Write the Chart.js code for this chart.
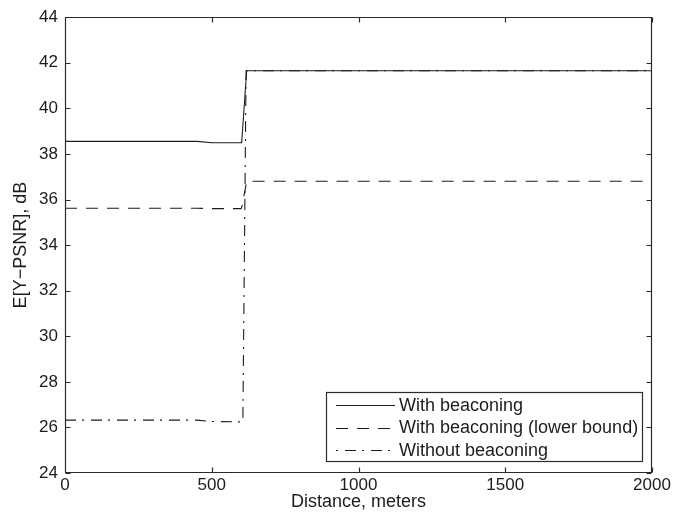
<!DOCTYPE html>
<html>
<head>
<meta charset="utf-8">
<title>E[Y-PSNR] vs distance</title>
<script src="https://cdn.jsdelivr.net/npm/chart.js@4/dist/chart.umd.min.js"></script>
<style>
  html, body { margin: 0; padding: 0; background: #ffffff; }
  canvas { display: block; }
</style>
</head>
<body>
<canvas id="psnrChart" width="687" height="516"></canvas>
<script>
// Tick values for both axes
const distanceTicks = [0, 500, 1000, 1500, 2000];
const psnrTicks = [24, 26, 28, 30, 32, 34, 36, 38, 40, 42, 44];

// With beaconing
const beaconDistance = [0, 450, 500, 602, 619, 2000];
const beaconPsnr = [38.55, 38.55, 38.49, 38.49, 41.65, 41.65];

// With beaconing (lower bound)
const lowerDistance = [0, 450, 500, 600, 603, 619, 2000];
const lowerPsnr = [35.62, 35.62, 35.6, 35.6, 35.7, 36.8, 36.8];

// Without beaconing
const noBeaconDistance = [0, 450, 500, 606, 617, 2000];
const noBeaconPsnr = [26.32, 26.32, 26.26, 26.24, 41.65, 41.65];

const FONT = '"Liberation Sans", Arial, Helvetica, sans-serif';
const INK = '#1c1c1c';

const toPoints = (xs, ys) => xs.map((x, i) => ({ x: x, y: ys[i] }));

// Box around the plot area with inward tick marks on every side
const framePlugin = {
  id: 'frame',
  afterDatasetsDraw(chart) {
    const { ctx, chartArea: a, scales } = chart;
    const L = Math.round(a.left) + 0.5, R = Math.round(a.right) - 0.5;
    const T = Math.round(a.top) + 0.5, B = Math.round(a.bottom) - 0.5;
    const len = 5;
    ctx.save();
    ctx.strokeStyle = '#2a2a2a';
    ctx.lineWidth = 1.2;
    ctx.beginPath();
    ctx.rect(L, T, R - L, B - T);
    distanceTicks.forEach(v => {
      const px = Math.round(scales.x.getPixelForValue(v)) + 0.5;
      ctx.moveTo(px, B); ctx.lineTo(px, B - len);
      ctx.moveTo(px, T); ctx.lineTo(px, T + len);
    });
    psnrTicks.forEach(v => {
      const py = Math.round(scales.y.getPixelForValue(v)) + 0.5;
      ctx.moveTo(L, py); ctx.lineTo(L + len, py);
      ctx.moveTo(R, py); ctx.lineTo(R - len, py);
    });
    ctx.stroke();
    ctx.restore();
  }
};

// Boxed legend in the lower right corner of the plot area
const boxLegendPlugin = {
  id: 'boxLegend',
  afterDraw(chart) {
    const { ctx, chartArea: a } = chart;
    const sets = chart.data.datasets;
    ctx.save();
    ctx.font = '18px ' + FONT;
    const textW = Math.max(...sets.map(d => ctx.measureText(d.label).width));
    const padL = 10, sample = 59, gap = 4, padR = 5, rowH = 22.5, padT = 13;
    const w = padL + sample + gap + textW + padR;
    const h = 70;
    const right = Math.round(a.right) - 9;
    const bottom = Math.round(a.bottom) - 11;
    const left = right - Math.round(w);
    const top = bottom - h;
    ctx.fillStyle = '#ffffff';
    ctx.fillRect(left, top, right - left, h);
    ctx.strokeStyle = '#2a2a2a';
    ctx.lineWidth = 1.2;
    ctx.strokeRect(left + 0.5, top + 0.5, right - left - 1, h - 1);
    sets.forEach((d, i) => {
      const yRow = top + padT + i * rowH;
      ctx.strokeStyle = INK;
      ctx.lineWidth = 1;
      ctx.setLineDash(d.borderDash || []);
      ctx.lineDashOffset = d.legendDashOffset || 0;
      ctx.beginPath();
      ctx.moveTo(left + padL, Math.round(yRow) + 0.5);
      ctx.lineTo(left + padL + sample, Math.round(yRow) + 0.5);
      ctx.stroke();
      ctx.setLineDash([]);
      ctx.fillStyle = INK;
      ctx.textAlign = 'left';
      ctx.textBaseline = 'middle';
      ctx.fillText(d.label, left + padL + sample + gap, yRow + 1);
    });
    ctx.restore();
  }
};

new Chart(document.getElementById('psnrChart'), {
  type: 'line',
  data: {
    datasets: [
      {
        label: 'With beaconing',
        data: toPoints(beaconDistance, beaconPsnr),
        borderColor: INK,
        borderWidth: 1.1,
        borderDash: []
      },
      {
        label: 'With beaconing (lower bound)',
        data: toPoints(lowerDistance, lowerPsnr),
        borderColor: INK,
        borderWidth: 1.1,
        borderDash: [12, 9]
      },
      {
        label: 'Without beaconing',
        data: toPoints(noBeaconDistance, noBeaconPsnr),
        borderColor: INK,
        borderWidth: 1.1,
        borderDash: [11, 6, 2, 7],
        legendDashOffset: 17
      }
    ]
  },
  options: {
    responsive: false,
    animation: false,
    devicePixelRatio: 1,
    layout: {
      autoPadding: false,
      padding: { top: 9, right: 35, left: 0, bottom: 0 }
    },
    elements: {
      point: { radius: 0, hoverRadius: 0 },
      line: { tension: 0, fill: false }
    },
    plugins: {
      legend: { display: false },
      tooltip: { enabled: false }
    },
    scales: {
      x: {
        type: 'linear',
        min: 0,
        max: 2000,
        afterBuildTicks: s => { s.ticks = distanceTicks.map(v => ({ value: v })); },
        afterFit: s => { s.height = 43; },
        grid: { display: false, drawTicks: false },
        border: { display: false },
        ticks: {
          padding: 2,
          maxRotation: 0,
          color: INK,
          font: { family: FONT, size: 17 },
          callback: v => String(v)
        },
        title: {
          display: true,
          text: 'Distance, meters',
          color: INK,
          font: { family: FONT, size: 18 },
          padding: { top: 0, bottom: 3 }
        }
      },
      y: {
        type: 'linear',
        min: 24,
        max: 44,
        afterBuildTicks: s => { s.ticks = psnrTicks.map(v => ({ value: v })); },
        afterFit: s => { s.width = 65; },
        grid: { display: false, drawTicks: false },
        border: { display: false },
        ticks: {
          padding: 7,
          color: INK,
          font: { family: FONT, size: 17 },
          callback: v => String(v)
        },
        title: {
          display: true,
          text: 'E[Y\u2212PSNR], dB',
          color: INK,
          font: { family: FONT, size: 18 },
          padding: { top: 10, bottom: 0 }
        }
      }
    }
  },
  plugins: [framePlugin, boxLegendPlugin]
});
</script>
</body>
</html>
